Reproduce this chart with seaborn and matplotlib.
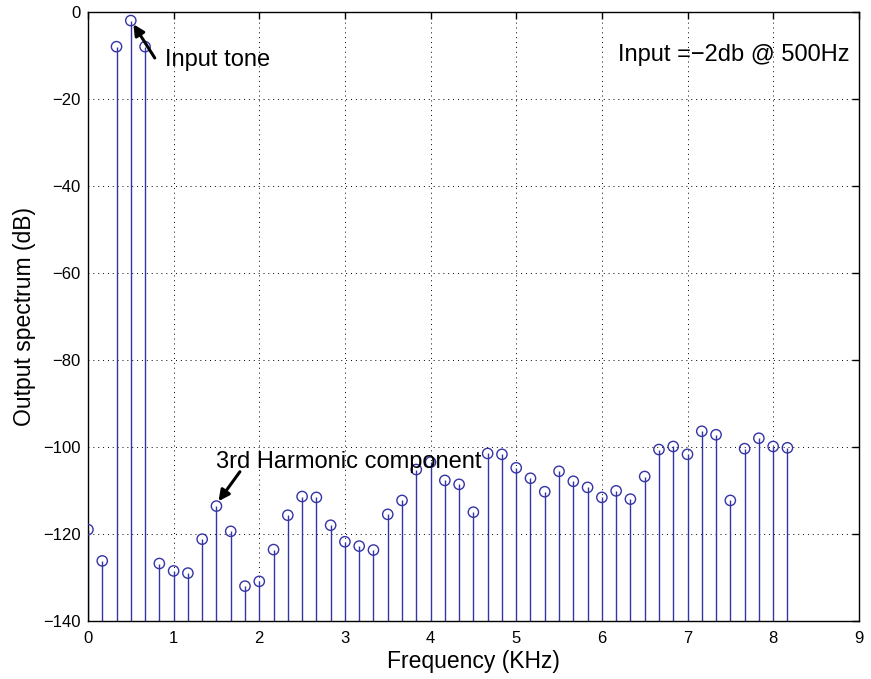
import numpy as np
import pandas as pd
import matplotlib
matplotlib.use("Agg")
import matplotlib.pyplot as plt
import seaborn as sns

# Frequencies (kHz) of each bin
freq_khz = [0.0, 0.1667, 0.3333, 0.5, 0.6667, 0.8333, 1.0, 1.1667, 1.3333, 1.5,
            1.6667, 1.8333, 2.0, 2.1667, 2.3333, 2.5, 2.6667, 2.8333, 3.0, 3.1667,
            3.3333, 3.5, 3.6667, 3.8333, 4.0, 4.1667, 4.3333, 4.5, 4.6667, 4.8333,
            5.0, 5.1667, 5.3333, 5.5, 5.6667, 5.8333, 6.0, 6.1667, 6.3333, 6.5,
            6.6667, 6.8333, 7.0, 7.1667, 7.3333, 7.5, 7.6667, 7.8333, 8.0, 8.1667]
# Output spectrum (dB)
spectrum_db = [-119.0, -126.2, -8.0, -2.0, -8.0, -126.8, -128.5, -129.0, -121.2, -113.6,
               -119.4, -132.0, -130.9, -123.6, -115.7, -111.4, -111.6, -118.0, -121.8, -122.8,
               -123.7, -115.5, -112.3, -105.2, -103.5, -107.7, -108.6, -115.0, -101.5, -101.7,
               -104.8, -107.2, -110.3, -105.6, -107.9, -109.3, -111.6, -110.1, -112.0, -106.8,
               -100.6, -99.9, -101.7, -96.4, -97.2, -112.3, -100.4, -98.0, -99.9, -100.2]

x_ticks = [0, 1, 2, 3, 4, 5, 6, 7, 8, 9]
y_ticks = [-140, -120, -100, -80, -60, -40, -20, 0]

df = pd.DataFrame({"freq": freq_khz, "db": spectrum_db})

sns.set_theme(style="white")
plt.rcParams["font.family"] = ["Liberation Sans", "DejaVu Sans"]
plt.rcParams["text.color"] = "black"
plt.rcParams["axes.labelcolor"] = "black"

fig = plt.figure(figsize=(8.71, 6.79), dpi=100)
ax = fig.add_axes([0.101, 0.0855, 0.885, 0.897])

stem_color = "#3434a6"
ax.vlines(df["freq"], -140, df["db"], color=stem_color, linewidth=1.0, zorder=2)
sns.scatterplot(data=df, x="freq", y="db", ax=ax, marker="o", s=55,
                facecolor="none", edgecolor=stem_color, linewidth=1.0, zorder=3)

ax.set_xlim(0, 9)
ax.set_ylim(-140, 0)
ax.set_xticks(x_ticks)
ax.set_yticks(y_ticks)
ax.set_xticklabels([str(v) for v in x_ticks])
ax.set_yticklabels([str(v).replace("-", "\u2212") for v in y_ticks])
ax.tick_params(direction="in", length=5, width=1, top=True, right=True,
               labelsize=12, colors="black")
ax.tick_params(axis="y", pad=5.5)
ax.tick_params(axis="x", pad=7)
ax.grid(True, linestyle=(0, (1, 4)), color="black", linewidth=0.7)
for s in ax.spines.values():
    s.set_color("black")
    s.set_linewidth(1.0)

ax.set_xlabel("Frequency (KHz)", fontsize=16.5, color="black", labelpad=3)
ax.set_ylabel("Output spectrum (dB)", fontsize=16.5, color="black", labelpad=5)

arrow_kw = dict(arrowstyle="-|>", color="black", lw=2.2, mutation_scale=16,
                shrinkA=0, shrinkB=2)
ax.annotate("", xy=(0.513, -2.3), xytext=(0.78, -10.6), arrowprops=arrow_kw)
ax.text(0.9, -11, "Input tone", fontsize=17, ha="left", va="center")
ax.annotate("", xy=(1.505, -113.0), xytext=(1.774, -105.7), arrowprops=arrow_kw)
ax.text(1.49, -103.4, "3rd Harmonic component", fontsize=17, ha="left", va="center")
ax.text(8.89, -10, "Input =\u22122db @ 500Hz", fontsize=17, ha="right", va="center")

fig.savefig("out.png", dpi=100)
